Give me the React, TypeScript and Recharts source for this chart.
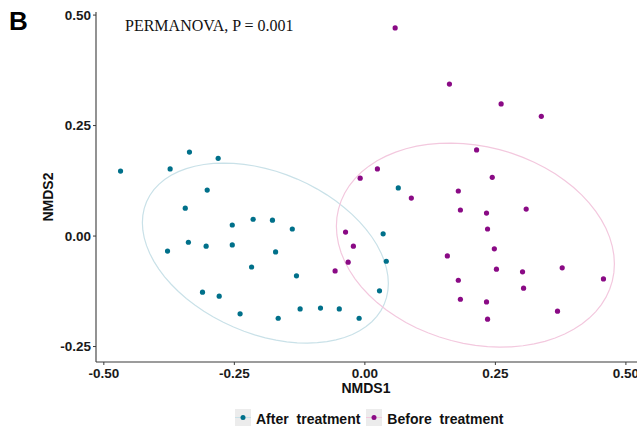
import React from 'react';
import { ScatterChart, Scatter, XAxis, YAxis, Legend } from 'recharts';

// ---- data ----
const groups = ['After treatment', 'Before treatment'];

const afterNMDS1 = [
  -0.468, -0.373, -0.336, -0.281, -0.302, -0.344, -0.254, -0.214, -0.177, -0.139,
  -0.338, -0.304, -0.254, -0.378, -0.217, -0.171, -0.131, -0.311, -0.279, -0.239,
  -0.166, -0.124, -0.085, -0.049, -0.011, 0.064, 0.035, 0.041, 0.028,
];
const afterNMDS2 = [
  0.147, 0.152, 0.19, 0.176, 0.104, 0.063, 0.025, 0.038, 0.036, 0.016,
  -0.014, -0.023, -0.02, -0.034, -0.07, -0.036, -0.09, -0.127, -0.136, -0.176,
  -0.186, -0.165, -0.163, -0.165, -0.186, 0.109, 0.005, -0.057, -0.124,
];
const beforeNMDS1 = [
  0.058, 0.162, 0.261, 0.338, 0.214, 0.024, -0.009, 0.089, 0.179, 0.244,
  0.183, 0.233, 0.309, -0.037, -0.022, -0.032, -0.057, 0.235, 0.248, 0.158,
  0.252, 0.302, 0.378, 0.179, 0.304, 0.457, 0.183, 0.233, 0.369, 0.235,
];
const beforeNMDS2 = [
  0.471, 0.344, 0.299, 0.271, 0.195, 0.152, 0.131, 0.086, 0.102, 0.133,
  0.059, 0.052, 0.061, 0.009, -0.023, -0.059, -0.079, 0.016, -0.029, -0.045,
  -0.075, -0.081, -0.072, -0.1, -0.118, -0.097, -0.143, -0.149, -0.17, -0.188,
];

// confidence ellipses (centre and shape matrix, in NMDS units)
const ellipseCenterX = [-0.1906, 0.2117];
const ellipseCenterY = [-0.0385, -0.0204];
const ellipseSxx = [0.0555, 0.0709];
const ellipseSyy = [0.0415, 0.0533];
const ellipseSxy = [-0.0162, -0.0114];

const xTicks = [-0.5, -0.25, 0, 0.25, 0.5];
const yTicks = [-0.25, 0, 0.25, 0.5];
const xDomain = [-0.515, 0.527];
const yDomain = [-0.285, 0.507];

const pointColors = ['#00708a', '#8a0a85'];
const ellipseColors = ['#c9e1e8', '#f3c8de'];

function ellipsePath(cx: number, cy: number, a: number, c: number, b: number, segments = 72) {
  const r11 = Math.sqrt(a);
  const r12 = b / r11;
  const r22 = Math.sqrt(c - r12 * r12);
  const pts = [];
  for (let k = 0; k <= segments; k++) {
    const t = (k * 2 * Math.PI) / segments;
    const u = Math.cos(t), v = Math.sin(t);
    pts.push({ x: cx + u * r11, y: cy + u * r12 + v * r22 });
  }
  return pts;
}

const afterPts = afterNMDS1.map((x, i) => ({ x, y: afterNMDS2[i] }));
const beforePts = beforeNMDS1.map((x, i) => ({ x, y: beforeNMDS2[i] }));
const ellipses = [0, 1].map((i) =>
  ellipsePath(ellipseCenterX[i], ellipseCenterY[i], ellipseSxx[i], ellipseSyy[i], ellipseSxy[i])
);

const sans = '"Liberation Sans", Arial, Helvetica, sans-serif';
const tickStyle = { fontFamily: sans, fontSize: 13.5, fontWeight: 700, fill: '#1a1a1a' };

const dot = (color: string) => (props: any) => (
  <circle cx={props.cx} cy={props.cy} r={2.6} fill={color} />
);
const noShape = () => <g />;

const LegendContent = () => (
  <div
    style={{
      height: 22,
      display: 'flex',
      alignItems: 'flex-start',
      paddingLeft: 235,
      fontFamily: sans,
      fontWeight: 700,
      fontSize: 14,
      color: '#111',
    }}
  >
    {groups.map((g, i) => (
      <div key={g} style={{ display: 'flex', alignItems: 'center', marginRight: 6 }}>
        <svg width={16} height={17} style={{ display: 'block' }}>
          <rect x={0} y={0} width={16} height={17} fill="#ececec" />
          <line x1={0} x2={16} y1={8.5} y2={8.5} stroke={ellipseColors[i]} strokeWidth={1} />
          <circle cx={8} cy={8.5} r={2.5} fill={pointColors[i]} />
        </svg>
        <span style={{ marginLeft: 5, wordSpacing: 4, whiteSpace: 'pre', lineHeight: '17px', position: 'relative', top: 2 }}>{g}</span>
      </div>
    ))}
  </div>
);

export default function App() {
  return (
    <div
      style={{
        position: 'absolute',
        left: 0,
        top: 0,
        width: 637,
        height: 431,
        overflow: 'hidden',
        background: '#fff',
      }}
    >
      <ScatterChart width={640} height={431} margin={{ top: 12, right: 0, bottom: 0, left: 0 }}>
        <XAxis
          type="number"
          dataKey="x"
          domain={xDomain}
          ticks={xTicks}
          interval={0}
          allowDataOverflow
          height={47}
          tickSize={3}
          tickMargin={3}
          tick={tickStyle}
          tickFormatter={(v: number) => v.toFixed(2)}
          axisLine={{ stroke: '#3a3a3a', strokeWidth: 1.1 }}
          tickLine={{ stroke: '#3a3a3a' }}
          label={{
            value: 'NMDS1',
            content: (props: any) => {
              const vb = props.viewBox || {};
              return (
                <text x={vb.x + vb.width / 2 - 2} y={393} textAnchor="middle" style={{ fontFamily: sans, fontSize: 14, fontWeight: 700, fill: '#111' }}>
                  NMDS1
                </text>
              );
            },
          }}
        />
        <YAxis
          type="number"
          dataKey="y"
          domain={yDomain}
          ticks={yTicks}
          interval={0}
          allowDataOverflow
          width={96}
          tickSize={3}
          tickMargin={2}
          tick={tickStyle}
          tickFormatter={(v: number) => v.toFixed(2)}
          axisLine={{ stroke: '#3a3a3a', strokeWidth: 1.1 }}
          tickLine={{ stroke: '#3a3a3a' }}
          label={{
            value: 'NMDS2',
            content: (props: any) => {
              const vb = props.viewBox || {};
              const cy = vb.y + vb.height / 2 + 10;
              return (
                <text x={53} y={cy} textAnchor="middle" transform={`rotate(-90 53 ${cy})`} style={{ fontFamily: sans, fontSize: 14, fontWeight: 700, fill: '#111' }}>
                  NMDS2
                </text>
              );
            },
          }}
        />
        {ellipses.map((pts, i) => (
          <Scatter
            key={`ell-${i}`}
            name={`${groups[i]} ellipse`}
            data={pts}
            line={{ stroke: ellipseColors[i], strokeWidth: 1.2 }}
            lineType="joint"
            shape={noShape}
            legendType="none"
            isAnimationActive={false}
          />
        ))}
        <Scatter name={groups[0]} data={afterPts} fill={pointColors[0]} shape={dot(pointColors[0])} isAnimationActive={false} />
        <Scatter name={groups[1]} data={beforePts} fill={pointColors[1]} shape={dot(pointColors[1])} isAnimationActive={false} />
        <Legend verticalAlign="bottom" align="left" width={640} height={22} wrapperStyle={{ left: 0 }} content={<LegendContent />} />
      </ScatterChart>
      <div style={{ position: 'absolute', left: 9, top: 5, fontFamily: sans, fontWeight: 700, fontSize: 26, lineHeight: '32px', color: '#000' }}>B</div>
      <div style={{ position: 'absolute', left: 125, top: 15.5, fontFamily: '"Liberation Serif", "Times New Roman", serif', fontSize: 16, lineHeight: '20px', color: '#111', whiteSpace: 'pre' }}>
        PERMANOVA, P = 0.001
      </div>
    </div>
  );
}
